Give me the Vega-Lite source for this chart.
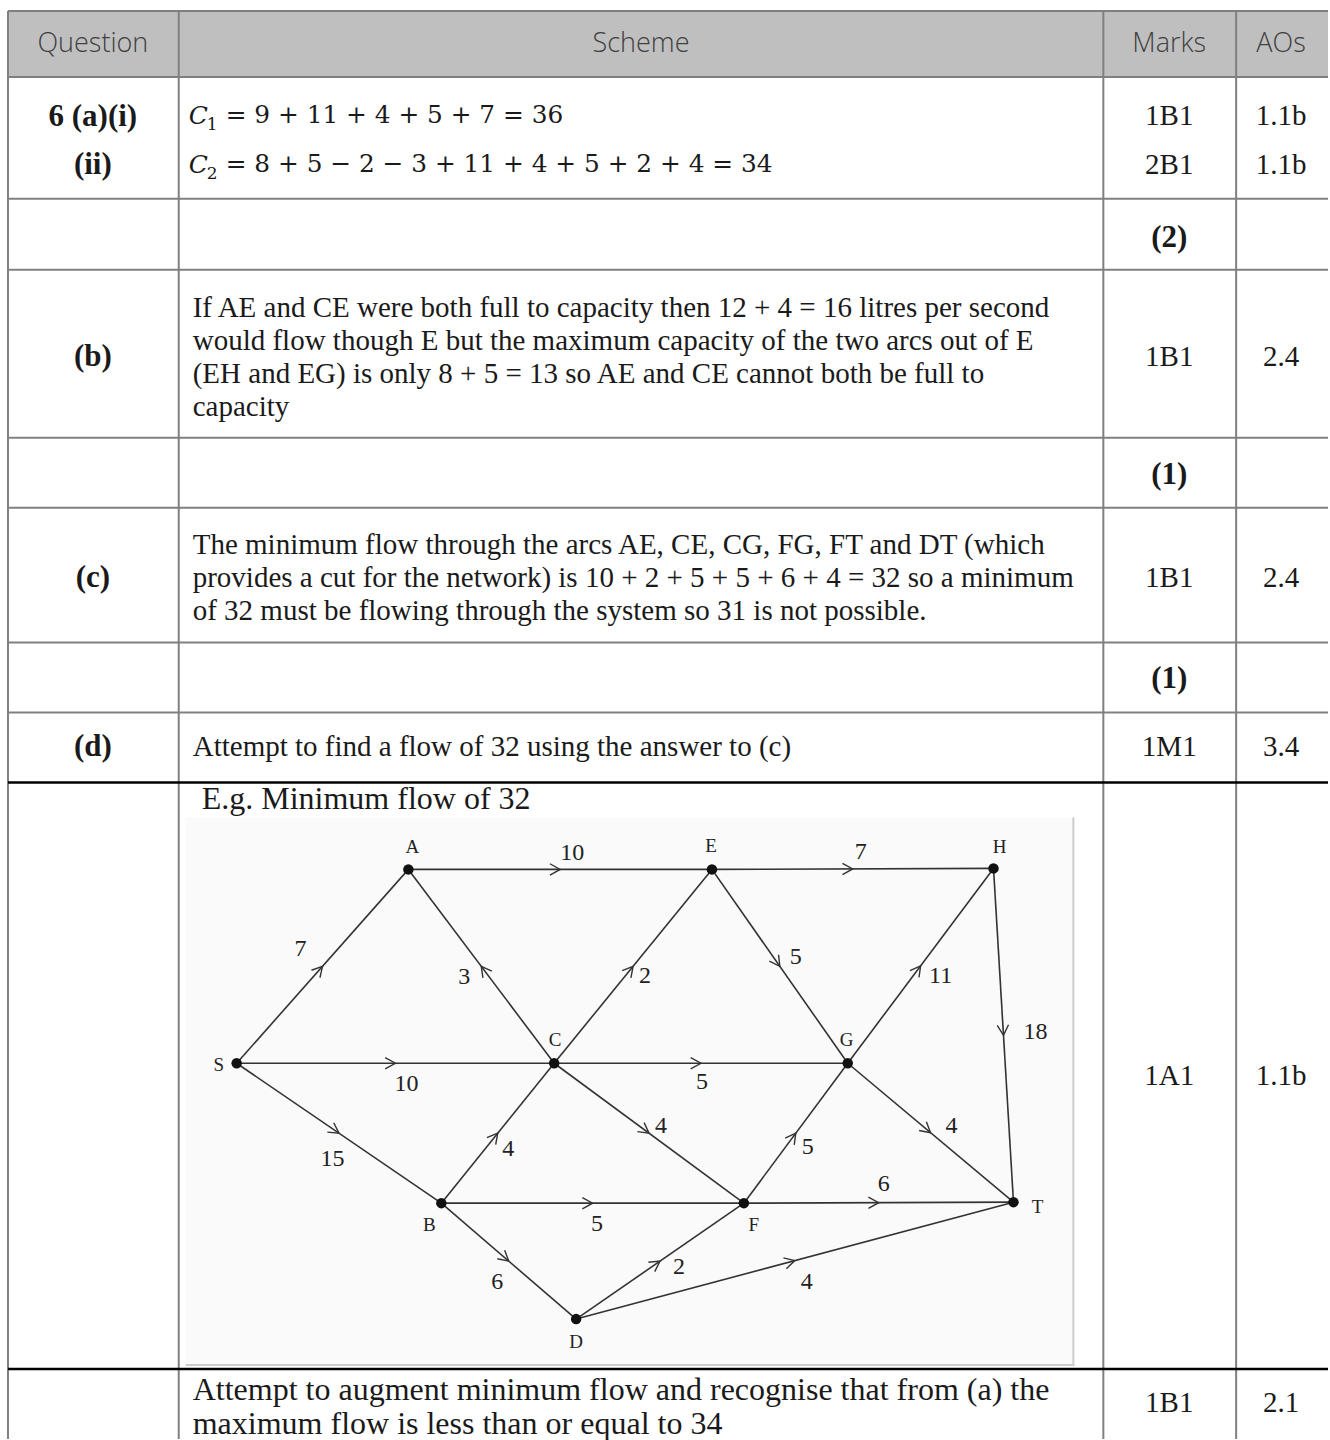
{
  "$schema": "https://vega.github.io/schema/vega-lite/v6.json",
  "width": 1330,
  "height": 1440,
  "autosize": {"type": "fit", "contains": "padding"},
  "padding": 0,
  "background": "white",
  "config": {"view": {"stroke": null}},
  "datasets": {
    "fills": [
      {"part": "header", "x": 8, "x2": 1330, "y": 11, "y2": 77},
      {"part": "image", "x": 186, "x2": 1075, "y": 818, "y2": 1367}
    ],
    "lines": [
      {"kind": "grey", "x": 8, "x2": 1330, "y": 11, "y2": 11},
      {"kind": "grey", "x": 8, "x2": 1330, "y": 77, "y2": 77},
      {"kind": "grey", "x": 8, "x2": 1330, "y": 199, "y2": 199},
      {"kind": "grey", "x": 8, "x2": 1330, "y": 270, "y2": 270},
      {"kind": "grey", "x": 8, "x2": 1330, "y": 438, "y2": 438},
      {"kind": "grey", "x": 8, "x2": 1330, "y": 508, "y2": 508},
      {"kind": "grey", "x": 8, "x2": 1330, "y": 643, "y2": 643},
      {"kind": "grey", "x": 8, "x2": 1330, "y": 713, "y2": 713},
      {"kind": "grey", "x": 8, "x2": 8, "y": 11, "y2": 1440},
      {"kind": "grey", "x": 179, "x2": 179, "y": 11, "y2": 1440},
      {"kind": "grey", "x": 1105, "x2": 1105, "y": 11, "y2": 1440},
      {"kind": "grey", "x": 1238, "x2": 1238, "y": 11, "y2": 1440},
      {"kind": "black", "x": 8, "x2": 1330, "y": 783, "y2": 783},
      {"kind": "black", "x": 8, "x2": 1330, "y": 1370, "y2": 1370},
      {"kind": "edge", "x": 1075, "x2": 1075, "y": 818, "y2": 1367},
      {"kind": "edge", "x": 186, "x2": 1075, "y": 1366, "y2": 1366}
    ],
    "texts": [
      {"role": "header", "x": 93, "y": 44, "text": "Question"},
      {"role": "header", "x": 642, "y": 44, "text": "Scheme"},
      {"role": "header", "x": 1171, "y": 44, "text": "Marks"},
      {"role": "header", "x": 1283, "y": 44, "text": "AOs"},
      {"role": "bold", "x": 93, "y": 117, "text": "6 (a)(i)"},
      {"role": "bold", "x": 93, "y": 165, "text": "(ii)"},
      {"role": "bold", "x": 1171, "y": 238, "text": "(2)"},
      {"role": "bold", "x": 93, "y": 357, "text": "(b)"},
      {"role": "bold", "x": 1171, "y": 475, "text": "(1)"},
      {"role": "bold", "x": 93, "y": 578, "text": "(c)"},
      {"role": "bold", "x": 1171, "y": 679, "text": "(1)"},
      {"role": "bold", "x": 93, "y": 748, "text": "(d)"},
      {"role": "center", "x": 1171, "y": 116, "text": "1B1"},
      {"role": "center", "x": 1171, "y": 165, "text": "2B1"},
      {"role": "center", "x": 1283, "y": 116, "text": "1.1b"},
      {"role": "center", "x": 1283, "y": 165, "text": "1.1b"},
      {"role": "center", "x": 1171, "y": 357, "text": "1B1"},
      {"role": "center", "x": 1283, "y": 357, "text": "2.4"},
      {"role": "center", "x": 1171, "y": 578, "text": "1B1"},
      {"role": "center", "x": 1283, "y": 578, "text": "2.4"},
      {"role": "center", "x": 1171, "y": 748, "text": "1M1"},
      {"role": "center", "x": 1283, "y": 748, "text": "3.4"},
      {"role": "center", "x": 1171, "y": 1077, "text": "1A1"},
      {"role": "center", "x": 1283, "y": 1077, "text": "1.1b"},
      {"role": "center", "x": 1171, "y": 1404, "text": "1B1"},
      {"role": "center", "x": 1283, "y": 1404, "text": "2.1"},
      {"role": "left", "x": 193, "y": 308, "text": "If AE and CE were both full to capacity then 12 + 4 = 16 litres per second"},
      {"role": "left", "x": 193, "y": 341, "text": "would flow though E but the maximum capacity of the two arcs out of E"},
      {"role": "left", "x": 193, "y": 374, "text": "(EH and EG) is only 8 + 5 = 13 so AE and CE cannot both be full to"},
      {"role": "left", "x": 193, "y": 407, "text": "capacity"},
      {"role": "left", "x": 193, "y": 545, "text": "The minimum flow through the arcs AE, CE, CG, FG, FT and DT (which"},
      {"role": "left", "x": 193, "y": 578, "text": "provides a cut for the network) is 10 + 2 + 5 + 5 + 6 + 4 = 32 so a minimum"},
      {"role": "left", "x": 193, "y": 611, "text": "of 32 must be flowing through the system so 31 is not possible."},
      {"role": "left", "x": 193, "y": 748, "text": "Attempt to find a flow of 32 using the answer to (c)"},
      {"role": "leftLarge", "x": 202, "y": 800, "text": "E.g. Minimum flow of 32"},
      {"role": "leftLarge", "x": 193, "y": 1391, "text": "Attempt to augment minimum flow and recognise that from (a) the"},
      {"role": "leftLarge", "x": 193, "y": 1425, "text": "maximum flow is less than or equal to 34"},
      {"role": "mathC", "x": 189, "y": 116, "text": "C"},
      {"role": "mathC", "x": 189, "y": 165, "text": "C"},
      {"role": "mathSub", "x": 207, "y": 125, "text": "1"},
      {"role": "mathSub", "x": 207, "y": 174, "text": "2"},
      {"role": "math", "x": 226, "y": 116, "text": "= 9 + 11 + 4 + 5 + 7 = 36"},
      {"role": "math", "x": 226, "y": 165, "text": "= 8 + 5 − 2 − 3 + 11 + 4 + 5 + 2 + 4 = 34"}
    ],
    "nodes": [
      {"id": "S", "x": 237, "y": 1064, "lx": 219, "ly": 1066},
      {"id": "A", "x": 409, "y": 870, "lx": 413, "ly": 848},
      {"id": "E", "x": 713, "y": 870, "lx": 712, "ly": 847},
      {"id": "H", "x": 995, "y": 869, "lx": 1001, "ly": 848},
      {"id": "C", "x": 555, "y": 1064, "lx": 556, "ly": 1041},
      {"id": "G", "x": 849, "y": 1064, "lx": 848, "ly": 1041},
      {"id": "B", "x": 442, "y": 1204, "lx": 430, "ly": 1226},
      {"id": "F", "x": 745, "y": 1204, "lx": 755, "ly": 1226},
      {"id": "T", "x": 1015, "y": 1203, "lx": 1039, "ly": 1208},
      {"id": "D", "x": 577, "y": 1320, "lx": 577, "ly": 1343}
    ],
    "edges": [
      {"from": "S", "to": "A", "flow": "7", "lx": 301, "ly": 950},
      {"from": "A", "to": "E", "flow": "10", "lx": 573, "ly": 854},
      {"from": "C", "to": "A", "flow": "3", "lx": 465, "ly": 978},
      {"from": "C", "to": "E", "flow": "2", "lx": 646, "ly": 977},
      {"from": "E", "to": "H", "flow": "7", "lx": 862, "ly": 853},
      {"from": "E", "to": "G", "flow": "5", "lx": 797, "ly": 958},
      {"from": "G", "to": "H", "flow": "11", "lx": 942, "ly": 977},
      {"from": "H", "to": "T", "flow": "18", "lx": 1037, "ly": 1033},
      {"from": "S", "to": "C", "flow": "10", "lx": 407, "ly": 1085},
      {"from": "C", "to": "G", "flow": "5", "lx": 703, "ly": 1083},
      {"from": "S", "to": "B", "flow": "15", "lx": 333, "ly": 1160},
      {"from": "B", "to": "C", "flow": "4", "lx": 509, "ly": 1150},
      {"from": "C", "to": "F", "flow": "4", "lx": 662, "ly": 1127},
      {"from": "F", "to": "G", "flow": "5", "lx": 809, "ly": 1148},
      {"from": "G", "to": "T", "flow": "4", "lx": 953, "ly": 1127},
      {"from": "B", "to": "F", "flow": "5", "lx": 598, "ly": 1225},
      {"from": "F", "to": "T", "flow": "6", "lx": 885, "ly": 1185},
      {"from": "B", "to": "D", "flow": "6", "lx": 498, "ly": 1283},
      {"from": "D", "to": "F", "flow": "2", "lx": 680, "ly": 1268},
      {"from": "D", "to": "T", "flow": "4", "lx": 808, "ly": 1283}
    ]
  },
  "layer": [
    {
      "data": {"name": "fills"},
      "transform": [{"filter": "datum.part === 'header'"}],
      "mark": {"type": "rect", "color": "#bfbfbf"},
      "encoding": {
        "x": {"field": "x", "type": "quantitative", "scale": {"domain": [0, 1330], "nice": false, "zero": false}, "axis": null},
        "x2": {"field": "x2"},
        "y": {"field": "y", "type": "quantitative", "scale": {"domain": [0, 1440], "nice": false, "zero": false, "reverse": true}, "axis": null},
        "y2": {"field": "y2"}
      }
    },
    {
      "data": {"name": "fills"},
      "transform": [{"filter": "datum.part === 'image'"}],
      "mark": {"type": "rect", "color": "#fafafa"},
      "encoding": {
        "x": {"field": "x", "type": "quantitative"},
        "x2": {"field": "x2"},
        "y": {"field": "y", "type": "quantitative"},
        "y2": {"field": "y2"}
      }
    },
    {
      "data": {"name": "lines"},
      "transform": [{"filter": "datum.kind === 'edge'"}],
      "mark": {"type": "rule", "color": "#cccccc", "strokeWidth": 2},
      "encoding": {
        "x": {"field": "x", "type": "quantitative"},
        "x2": {"field": "x2"},
        "y": {"field": "y", "type": "quantitative"},
        "y2": {"field": "y2"}
      }
    },
    {
      "data": {"name": "lines"},
      "transform": [{"filter": "datum.kind === 'grey'"}],
      "mark": {"type": "rule", "color": "#808080", "strokeWidth": 2},
      "encoding": {
        "x": {"field": "x", "type": "quantitative"},
        "x2": {"field": "x2"},
        "y": {"field": "y", "type": "quantitative"},
        "y2": {"field": "y2"}
      }
    },
    {
      "data": {"name": "lines"},
      "transform": [{"filter": "datum.kind === 'black'"}],
      "mark": {"type": "rule", "color": "#000000", "strokeWidth": 2.5},
      "encoding": {
        "x": {"field": "x", "type": "quantitative"},
        "x2": {"field": "x2"},
        "y": {"field": "y", "type": "quantitative"},
        "y2": {"field": "y2"}
      }
    },
    {
      "data": {"name": "texts"},
      "transform": [{"filter": "datum.role === 'header'"}],
      "mark": {"type": "text", "font": "Open Sans", "fontWeight": 300, "fontSize": 27, "color": "#404040", "align": "center", "baseline": "middle"},
      "encoding": {
        "x": {"field": "x", "type": "quantitative"},
        "y": {"field": "y", "type": "quantitative"},
        "text": {"field": "text"}
      }
    },
    {
      "data": {"name": "texts"},
      "transform": [{"filter": "datum.role === 'bold'"}],
      "mark": {"type": "text", "font": "Liberation Serif", "fontWeight": "bold", "fontSize": 31, "color": "#1a1a1a", "align": "center", "baseline": "middle"},
      "encoding": {
        "x": {"field": "x", "type": "quantitative"},
        "y": {"field": "y", "type": "quantitative"},
        "text": {"field": "text"}
      }
    },
    {
      "data": {"name": "texts"},
      "transform": [{"filter": "datum.role === 'center'"}],
      "mark": {"type": "text", "font": "Liberation Serif", "fontSize": 29, "color": "#1a1a1a", "align": "center", "baseline": "middle"},
      "encoding": {
        "x": {"field": "x", "type": "quantitative"},
        "y": {"field": "y", "type": "quantitative"},
        "text": {"field": "text"}
      }
    },
    {
      "data": {"name": "texts"},
      "transform": [{"filter": "datum.role === 'left'"}],
      "mark": {"type": "text", "font": "Liberation Serif", "fontSize": 29, "color": "#1a1a1a", "align": "left", "baseline": "middle"},
      "encoding": {
        "x": {"field": "x", "type": "quantitative"},
        "y": {"field": "y", "type": "quantitative"},
        "text": {"field": "text"}
      }
    },
    {
      "data": {"name": "texts"},
      "transform": [{"filter": "datum.role === 'leftLarge'"}],
      "mark": {"type": "text", "font": "Liberation Serif", "fontSize": 32, "color": "#1a1a1a", "align": "left", "baseline": "middle"},
      "encoding": {
        "x": {"field": "x", "type": "quantitative"},
        "y": {"field": "y", "type": "quantitative"},
        "text": {"field": "text"}
      }
    },
    {
      "data": {"name": "texts"},
      "transform": [{"filter": "datum.role === 'mathC'"}],
      "mark": {"type": "text", "font": "DejaVu Serif", "fontStyle": "italic", "fontSize": 25, "color": "#1a1a1a", "align": "left", "baseline": "middle"},
      "encoding": {
        "x": {"field": "x", "type": "quantitative"},
        "y": {"field": "y", "type": "quantitative"},
        "text": {"field": "text"}
      }
    },
    {
      "data": {"name": "texts"},
      "transform": [{"filter": "datum.role === 'mathSub'"}],
      "mark": {"type": "text", "font": "DejaVu Serif", "fontSize": 17, "color": "#1a1a1a", "align": "left", "baseline": "middle"},
      "encoding": {
        "x": {"field": "x", "type": "quantitative"},
        "y": {"field": "y", "type": "quantitative"},
        "text": {"field": "text"}
      }
    },
    {
      "data": {"name": "texts"},
      "transform": [{"filter": "datum.role === 'math'"}],
      "mark": {"type": "text", "font": "DejaVu Serif", "fontSize": 24.8, "color": "#1a1a1a", "align": "left", "baseline": "middle"},
      "encoding": {
        "x": {"field": "x", "type": "quantitative"},
        "y": {"field": "y", "type": "quantitative"},
        "text": {"field": "text"}
      }
    },
    {
      "data": {"name": "edges"},
      "transform": [
        {"lookup": "from", "from": {"data": {"name": "nodes"}, "key": "id", "fields": ["x", "y"]}, "as": ["x1", "y1"]},
        {"lookup": "to", "from": {"data": {"name": "nodes"}, "key": "id", "fields": ["x", "y"]}, "as": ["xe", "ye"]}
      ],
      "mark": {"type": "rule", "color": "#333333", "strokeWidth": 1.6},
      "encoding": {
        "x": {"field": "x1", "type": "quantitative"},
        "x2": {"field": "xe"},
        "y": {"field": "y1", "type": "quantitative"},
        "y2": {"field": "ye"}
      }
    },
    {
      "data": {"name": "edges"},
      "transform": [
        {"lookup": "from", "from": {"data": {"name": "nodes"}, "key": "id", "fields": ["x", "y"]}, "as": ["x1", "y1"]},
        {"lookup": "to", "from": {"data": {"name": "nodes"}, "key": "id", "fields": ["x", "y"]}, "as": ["xe", "ye"]},
        {"calculate": "(datum.x1 + datum.xe) / 2", "as": "mx"},
        {"calculate": "(datum.y1 + datum.ye) / 2", "as": "my"},
        {"calculate": "atan2(datum.ye - datum.y1, datum.xe - datum.x1) * 180 / PI", "as": "ang"}
      ],
      "mark": {"type": "point", "shape": "M-1,-0.55L0,0L-1,0.55", "filled": false, "stroke": "#333333", "strokeWidth": 1.4, "size": 420, "opacity": 1},
      "encoding": {
        "x": {"field": "mx", "type": "quantitative"},
        "y": {"field": "my", "type": "quantitative"},
        "angle": {"field": "ang", "type": "quantitative", "scale": null}
      }
    },
    {
      "data": {"name": "edges"},
      "mark": {"type": "text", "font": "Liberation Serif", "fontSize": 24, "color": "#222222", "align": "center", "baseline": "middle"},
      "encoding": {
        "x": {"field": "lx", "type": "quantitative"},
        "y": {"field": "ly", "type": "quantitative"},
        "text": {"field": "flow"}
      }
    },
    {
      "data": {"name": "nodes"},
      "mark": {"type": "point", "filled": true, "color": "#111111", "size": 110, "opacity": 1},
      "encoding": {
        "x": {"field": "x", "type": "quantitative"},
        "y": {"field": "y", "type": "quantitative"}
      }
    },
    {
      "data": {"name": "nodes"},
      "mark": {"type": "text", "font": "Liberation Serif", "fontSize": 19, "color": "#222222", "align": "center", "baseline": "middle"},
      "encoding": {
        "x": {"field": "lx", "type": "quantitative"},
        "y": {"field": "ly", "type": "quantitative"},
        "text": {"field": "id"}
      }
    }
  ]
}
